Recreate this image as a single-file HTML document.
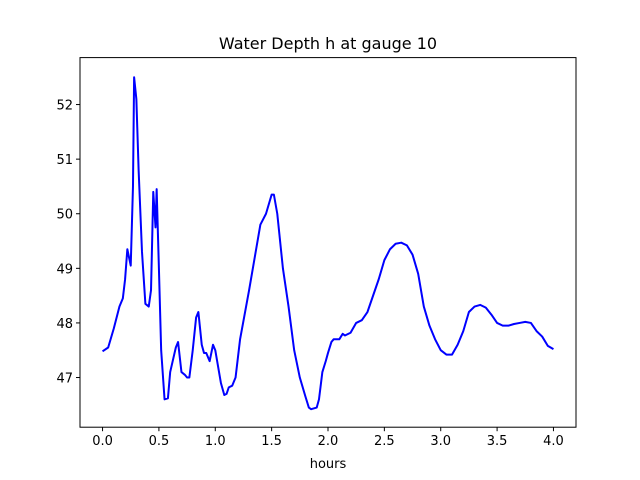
<!DOCTYPE html>
<html><head><meta charset="utf-8"><style>
body{margin:0;background:#fff}
svg{display:block;font-family:"DejaVu Sans","Liberation Sans",sans-serif}
</style></head><body>
<svg id="c" width="640" height="480">
<rect x="0" y="0" width="640" height="480" fill="#fff"/>
<text x="328" y="49" text-anchor="middle" font-size="16">Water Depth h at gauge 10</text>
<text x="328" y="468" text-anchor="middle" font-size="13">hours</text>
<g id="plot"></g>
<rect x="80" y="57.6" width="496" height="369.6" fill="none" stroke="#000" stroke-width="1"/>
</svg>
<script>
const times=[0,0.05,0.1,0.15,0.18,0.2,0.22,0.25,0.27,0.28,0.3,0.32,0.35,0.38,0.41,0.43,0.45,0.47,0.48,0.5,0.52,0.55,0.58,0.6,0.65,0.67,0.7,0.73,0.75,0.77,0.8,0.83,0.85,0.88,0.9,0.92,0.95,0.98,1.0,1.05,1.08,1.1,1.12,1.15,1.18,1.22,1.3,1.35,1.4,1.45,1.5,1.52,1.55,1.6,1.65,1.7,1.75,1.8,1.83,1.85,1.9,1.92,1.95,1.98,2.0,2.03,2.05,2.1,2.13,2.15,2.2,2.25,2.3,2.35,2.4,2.45,2.5,2.55,2.6,2.65,2.7,2.75,2.8,2.85,2.9,2.95,3.0,3.05,3.1,3.15,3.2,3.25,3.3,3.35,3.4,3.45,3.5,3.55,3.6,3.65,3.7,3.75,3.8,3.85,3.9,3.95,4.0];
const depths=[47.48,47.55,47.9,48.3,48.45,48.8,49.35,49.05,50.5,52.5,52.1,50.8,49.3,48.35,48.3,48.6,50.4,49.75,50.45,49.0,47.5,46.6,46.62,47.1,47.55,47.65,47.1,47.05,47.0,47.0,47.5,48.1,48.2,47.6,47.45,47.45,47.3,47.6,47.5,46.9,46.68,46.7,46.82,46.85,47.0,47.7,48.6,49.2,49.8,50.0,50.35,50.35,50.0,49.0,48.3,47.5,47.0,46.65,46.45,46.42,46.45,46.6,47.1,47.3,47.45,47.65,47.7,47.7,47.8,47.77,47.82,48.0,48.05,48.2,48.5,48.8,49.15,49.35,49.45,49.47,49.42,49.25,48.9,48.3,47.95,47.7,47.5,47.42,47.42,47.6,47.85,48.2,48.3,48.33,48.28,48.15,48.0,47.95,47.95,47.98,48.0,48.02,48.0,47.85,47.75,47.58,47.52];
const xTicks=["0.0","0.5","1.0","1.5","2.0","2.5","3.0","3.5","4.0"];
const yTicks=["47","48","49","50","51","52"];
const NS="http://www.w3.org/2000/svg";
const L=80,R=576,T=57.6,B=427.2;
const xmin=-0.2,xmax=4.2,ymin=46.09,ymax=52.86;
const sx=v=>L+(v-xmin)/(xmax-xmin)*(R-L);
const sy=v=>B-(v-ymin)/(ymax-ymin)*(B-T);
const g=document.getElementById('plot');
function mk(t,a){const e=document.createElementNS(NS,t);for(const k in a)e.setAttribute(k,a[k]);g.appendChild(e);return e;}
xTicks.forEach(s=>{const x=sx(parseFloat(s));
 const l=mk('line',{x1:x,x2:x,y1:B,y2:B+4,stroke:'#000'});
 
 
 const t=mk('text',{x:x,y:B+18,'text-anchor':'middle','font-size':13});t.textContent=s;
 
 });
yTicks.forEach(s=>{const y=sy(parseFloat(s));
 const l=mk('line',{x1:L-4,x2:L,y1:y,y2:y,stroke:'#000'});
 
 
 const t=mk('text',{x:L-7,y:y+5,'text-anchor':'end','font-size':13});t.textContent=s;
 
 });
const p=mk('polyline',{points:times.map((t,i)=>sx(t)+','+sy(depths[i])).join(' '),fill:'none',stroke:'#0000ff','stroke-width':2,'stroke-linejoin':'round'});


</script>
</body></html>
